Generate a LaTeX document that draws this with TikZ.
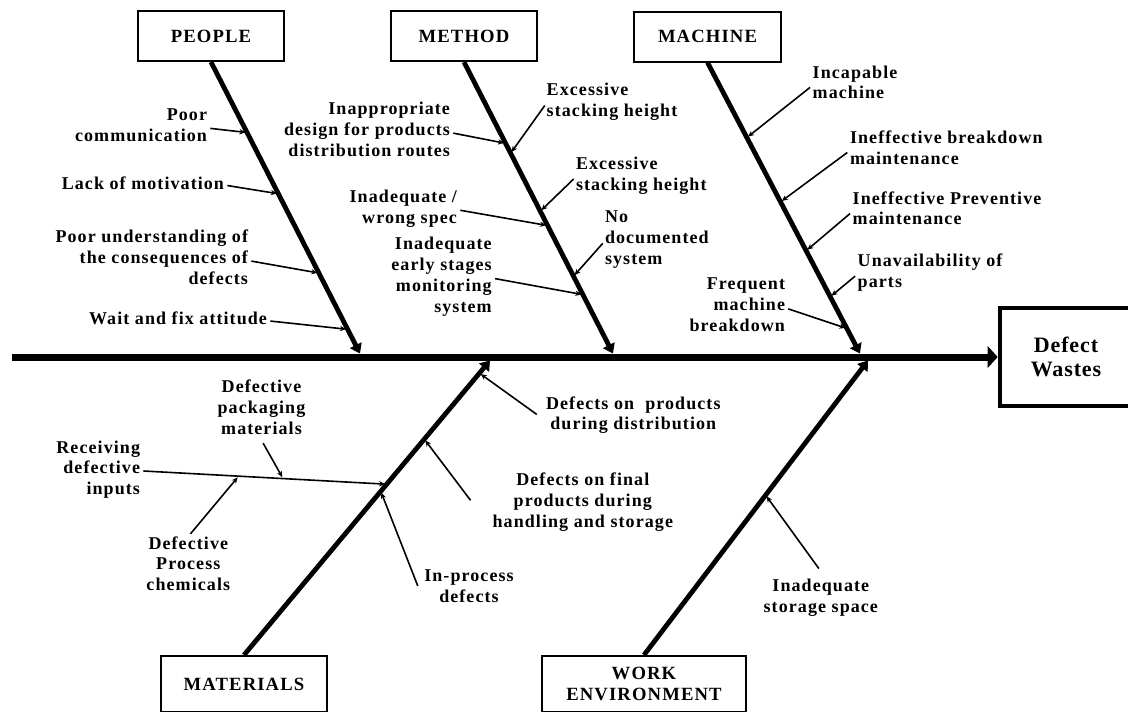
\documentclass[tikz,border=0pt]{standalone}
\usepackage{fontspec}
\setmainfont{Liberation Serif}
\newfontfamily\labfam{Liberation Serif}[LetterSpace=6]
\newfontfamily\catfam{Liberation Serif}[LetterSpace=6]
\newfontfamily\headfam{Liberation Serif}[LetterSpace=4]
\usetikzlibrary{arrows.meta,calc}
\newcommand\labf{\labfam\bfseries\fontsize{13.5}{15.6}\selectfont}
\newcommand\catf{\catfam\bfseries\fontsize{14}{15.5}\selectfont}
\newcommand\headf{\headfam\bfseries\fontsize{16.5}{17.5}\selectfont}
\begin{document}
\begin{tikzpicture}[x=0.75pt,y=-0.75pt,
  lab/.style={font=\labf, inner sep=0pt, outer sep=0pt,
    execute at begin node=\strut, execute at end node=\strut},
  labr/.style={lab, align=right, anchor=east},
  labl/.style={lab, align=left, anchor=west},
  labc/.style={lab, align=center},
  catbox/.style={draw, line width=1.5pt, font=\catf, inner sep=0pt, align=center,
    minimum width=109.5pt, minimum height=37.5pt},
  headbox/.style={draw, line width=3.5pt, font=\headf, inner sep=0pt, align=center,
    minimum width=99pt, minimum height=73.5pt},
  spine/.style={line width=5.25pt, -{Triangle[length=7.5pt,width=16pt]}},
  bone/.style={line width=3.6pt, -{Triangle[length=7pt,width=9.5pt]}},
  sub/.style={line width=1.2pt, -{Stealth[length=4.5pt,width=4pt]},
    shorten <=2.5pt, shorten >=1.2pt}
]
\useasboundingbox (0,0) rectangle (1128,711);
\clip (0,0) rectangle (1128,711);
\fill[white] (0,0) rectangle (1128,711);

% category boxes and effect box
\node[catbox] (people) at (211,36) {PEOPLE};
\node[catbox] (method) at (464,36) {METHOD};
\node[catbox, minimum width=110.25pt] (machine) at (707.5,36.5) {MACHINE};
\node[catbox, minimum width=124.5pt, minimum height=42pt] (materials) at (244,684) {MATERIALS};
\node[catbox, minimum width=153pt, minimum height=42pt] (workenv) at (644,684) {WORK\\ENVIRONMENT};
\node[headbox] (head) at (1066,357) {Defect\\Wastes};

% spine and main bones
\coordinate (sp0) at (12,357);
\coordinate (pT) at (360,353.5);
\coordinate (mT) at (613,353.5);
\coordinate (hT) at (860,353.5);
\coordinate (aT) at (490,360.5);
\coordinate (wT) at (868,360.5);

\draw[bone] (people.south) -- (pT);
\draw[bone] (method.south) -- (mT);
\draw[bone] (machine.south) -- (hT);
\draw[bone] (materials.north) -- (aT);
\draw[bone] (workenv.north) -- (wT);
\draw[spine] (sp0) -- (head.west);

% points on the bones
\coordinate (p1) at ($(people.south)!0.242!(pT)$);
\coordinate (p2) at ($(people.south)!0.452!(pT)$);
\coordinate (p3) at ($(people.south)!0.724!(pT)$);
\coordinate (p4) at ($(people.south)!0.917!(pT)$);
\coordinate (m1) at ($(method.south)!0.279!(mT)$);
\coordinate (m2) at ($(method.south)!0.313!(mT)$);
\coordinate (m3) at ($(method.south)!0.512!(mT)$);
\coordinate (m4) at ($(method.south)!0.561!(mT)$);
\coordinate (m5) at ($(method.south)!0.735!(mT)$);
\coordinate (m6) at ($(method.south)!0.798!(mT)$);
\coordinate (h1) at ($(machine.south)!0.258!(hT)$);
\coordinate (h2) at ($(machine.south)!0.479!(hT)$);
\coordinate (h3) at ($(machine.south)!0.647!(hT)$);
\coordinate (h4) at ($(machine.south)!0.805!(hT)$);
\coordinate (h5) at ($(machine.south)!0.914!(hT)$);
\coordinate (a0) at ($(materials.north)!0.58!(aT)$);
\coordinate (a1) at ($(materials.north)!0.556!(aT)$);
\coordinate (a2) at ($(materials.north)!0.733!(aT)$);
\coordinate (a3) at ($(materials.north)!0.957!(aT)$);
\coordinate (w1) at ($(workenv.north)!0.543!(wT)$);

% PEOPLE causes
\node[labr] (pc) at (207,128) {Poor\\communication};
\node[labr] (lm) at (224,185) {Lack of motivation};
\node[labr] (pu) at (248,260.5) {Poor understanding of\\the consequences of\\defects};
\node[labr] (wf) at (267,320.7) {Wait and fix attitude};
\draw[sub] (pc.east) -- (p1);
\draw[sub] (lm.east) -- (p2);
\draw[sub] (pu.east) -- (p3);
\draw[sub] (wf.east) -- (p4);

% METHOD causes
\node[labr] (ip) at (450,132.5) {Inappropriate\\design for products\\distribution routes};
\node[labl] (es1) at (546.7,102.8) {Excessive\\stacking height};
\node[labl] (es2) at (576,176.7) {Excessive\\stacking height};
\node[labr] (iw) at (457,209.7) {Inadequate /\\wrong spec};
\node[labl] (nd) at (605,240.8) {No\\documented\\system};
\node[labr] (ie) at (491.7,278) {Inadequate\\early stages\\monitoring\\system};
\draw[sub] (ip.east) -- (m1);
\draw[sub] (es1.west) -- (m2);
\draw[sub] (es2.west) -- (m3);
\draw[sub] (iw.east) -- (m4);
\draw[sub] (nd.west) -- (m5);
\draw[sub] (ie.east) -- (m6);

% MACHINE causes
\node[labl] (im) at (812.7,85.3) {Incapable\\machine};
\node[labl] (ib) at (850,150.5) {Ineffective breakdown\\maintenance};
\node[labl] (ipm) at (852.7,211.3) {Ineffective Preventive\\maintenance};
\node[labl] (up) at (857.7,274) {Unavailability of\\parts};
\node[labr] (fm) at (785,307.8) {Frequent\\machine\\breakdown};
\draw[sub] (im.west) -- (h1);
\draw[sub] (ib.west) -- (h2);
\draw[sub] (ipm.west) -- (h3);
\draw[sub] (up.west) -- (h4);
\draw[sub] (fm.east) -- (h5);

% MATERIALS causes
\node[labr] (rd) at (140,470.8) {Receiving\\defective\\inputs};
\node[labc] (dp) at (261.5,410) {Defective\\packaging\\materials};
\node[labc] (dc) at (188.3,566.7) {Defective\\Process\\chemicals};
\node[labc] (ipd) at (469,589) {In-process\\defects};
\node[labc] (df) at (582.8,503) {Defects on final\\products during\\handling and storage};
\node[labc] (dd) at (633.3,416.3) {Defects on\ \ products\\during distribution};
\draw[sub] (rd.east) -- (a0);
\coordinate (r1) at ($(rd.east)!0.58!(a0)$);
\coordinate (r2) at ($(rd.east)!0.40!(a0)$);
\draw[sub] (dp.south) -- (r1);
\draw[sub] (dc.north) -- (r2);
\draw[sub] ([xshift=-4pt]ipd.west) -- (a1);
\draw[sub] ([xshift=-15pt]df.west) -- (a2);
\draw[sub] ([xshift=-5pt]dd.west) -- (a3);

% WORK ENVIRONMENT cause
\node[labc] (is) at (820.8,599) {Inadequate\\storage space};
\draw[sub] ([yshift=6pt]is.north) -- (w1);
\end{tikzpicture}
\end{document}
